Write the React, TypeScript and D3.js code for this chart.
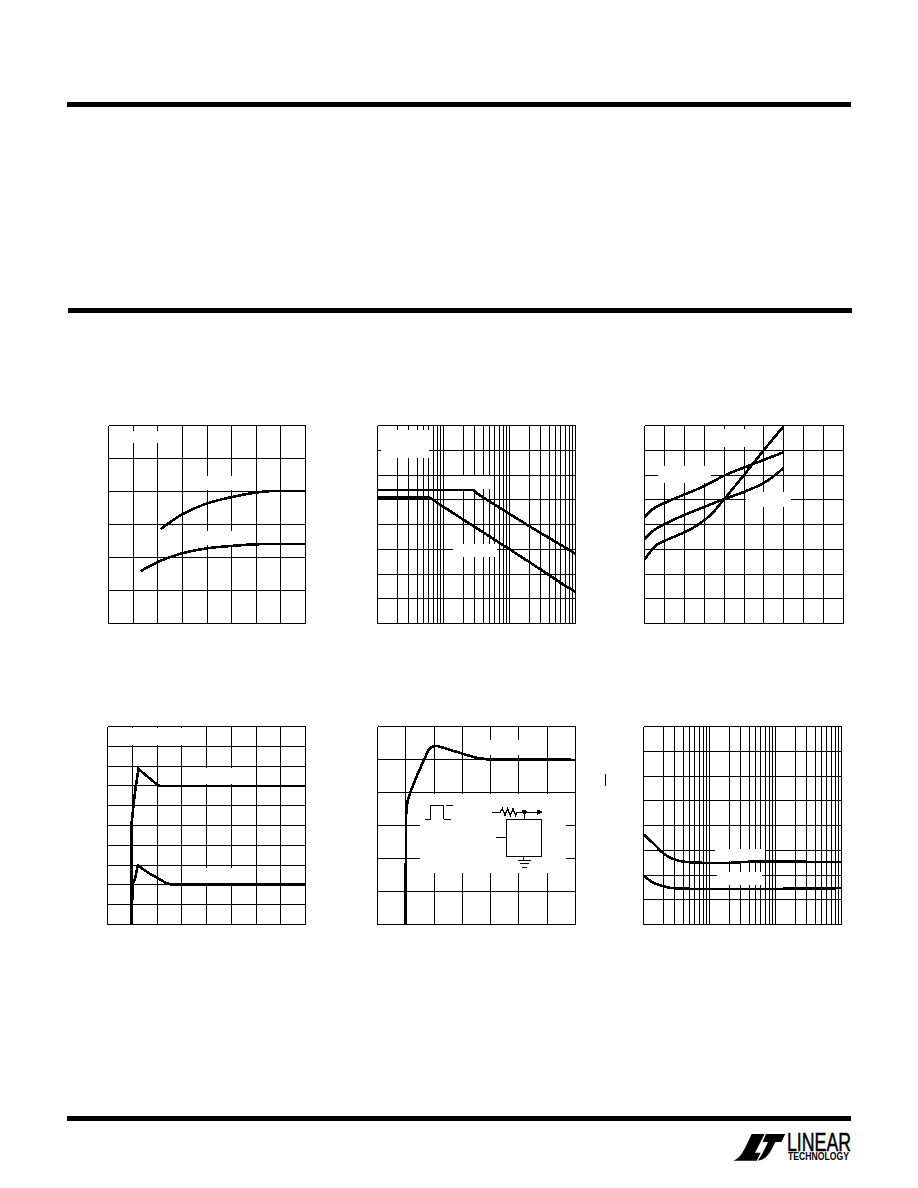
import * as React from "react";
import * as d3 from "d3";

// values, x/y in grid divisions (log panels: x in decades 1..1000)
const p1UpperX = [2.12, 3, 4.01, 4.99, 6, 6.55, 8];
const p1UpperY = [2.86, 3.31, 3.64, 3.83, 3.97, 4.01, 4.02];
const p1LowerX = [1.31, 1.99, 2.5, 3, 4.01, 4.99, 6, 8];
const p1LowerY = [1.59, 1.86, 2.01, 2.13, 2.28, 2.35, 2.4, 2.41];

const p2UpperX = [1, 27.8, 35, 93, 206, 739, 1000];
const p2UpperY = [5.39, 5.39, 5.19, 4.48, 3.91, 3.03, 2.8];
const p2LowerX = [1, 6.06, 11.2, 25.4, 91, 327, 739, 1000];
const p2LowerY = [5.1, 5.1, 4.63, 4.02, 3.07, 2.11, 1.48, 1.28];

const p3AX = [0, 0.586, 1.12, 1.96, 2.63, 3.3, 4.02, 4.98, 5.98, 6.99];
const p3AY = [2.58, 3.16, 3.38, 3.67, 3.96, 4.37, 5.04, 5.98, 6.99, 7.97];
const p3BX = [0, 0.45, 1.04, 1.96, 2.97, 4.02, 4.98, 5.98, 6.65, 6.99];
const p3BY = [3.41, 3.76, 4.03, 4.37, 4.7, 5.03, 5.31, 5.67, 6.05, 6.29];
const p3CX = [0, 0.45, 1.29, 2.97, 4.02, 5.48, 6.99];
const p3CY = [4.3, 4.64, 4.97, 5.54, 5.98, 6.45, 6.92];

const p4UpperX = [0.98, 0.98, 1.08, 1.15, 1.25, 2, 2.12, 8];
const p4UpperY = [0, 5.19, 6.36, 7.04, 7.85, 7.07, 7, 7];
const p4LowerX = [0.98, 1.01, 1.12, 1.22, 1.72, 2.33, 2.53, 8];
const p4LowerY = [0, 2, 2.34, 2.98, 2.56, 2.12, 2.03, 2.03];

const p5X = [0.99, 1.01, 1.06, 1.155, 1.45, 1.8, 1.92, 2.02, 2.1, 2.27, 2.92, 3.45, 3.92, 7];
const p5Y = [0, 3.31, 3.72, 4, 4.62, 5.28, 5.38, 5.41, 5.41, 5.37, 5.2, 5.06, 5, 4.99];

const p6UpperX = [1, 1.42, 2.01, 2.69, 3.6, 4.8, 20.6, 34.7, 1000];
const p6UpperY = [3.64, 3.27, 2.87, 2.67, 2.56, 2.52, 2.49, 2.53, 2.52];
const p6LowerX = [1, 1.42, 2.01, 2.54, 1000];
const p6LowerY = [1.98, 1.68, 1.55, 1.48, 1.47];

type Series = { xs: number[]; ys: number[] };
type Box = [number, number, number, number]; // x0, y0, x1, y1 of a white label patch

interface PanelProps {
  left: number;
  right: number;
  top: number;
  bottom: number;
  xDiv?: number; // linear panels
  log?: boolean;
  yDiv: number;
  series: Series[];
  patches: Box[];
  curve?: d3.CurveFactory;
}

const Panel: React.FC<PanelProps> = ({ left, right, top, bottom, xDiv, log, yDiv, series, patches, curve = d3.curveCatmullRom }) => {
  const x: any = log
    ? d3.scaleLog().domain([1, 1000]).range([left, right])
    : d3.scaleLinear().domain([0, xDiv as number]).range([left, right]);
  const y = d3.scaleLinear().domain([0, yDiv]).range([bottom, top]);
  const xTicks: number[] = log ? x.ticks() : d3.range(0, (xDiv as number) + 1);
  const line = d3
    .line<number>()
    .x((d) => x(d))
    .curve(curve);

  return (
    <g>
      <g stroke="#000" strokeWidth={1} shapeRendering="crispEdges">
        {xTicks.map((t) => (
          <line key={t} x1={x(t)} x2={x(t)} y1={top} y2={bottom} />
        ))}
        {d3.range(0, yDiv + 1).map((t) => (
          <line key={t} x1={left} x2={right} y1={y(t)} y2={y(t)} />
        ))}
      </g>
      {patches.map((b, i) => (
        <rect key={i} x={b[0]} y={b[1]} width={b[2] - b[0]} height={b[3] - b[1]} fill="#fff" />
      ))}
      <g fill="none" stroke="#000" strokeWidth={2.6} shapeRendering="crispEdges">
        {series.map((s, i) => (
          <path key={i} d={line.y((_, j) => y(s.ys[j]))(s.xs) || undefined} />
        ))}
      </g>
    </g>
  );
};

// test circuit sketch sitting in the fifth panel, drawn at 3x then scaled down
const Schematic: React.FC = () => (
  <g transform="translate(360,715) scale(0.3333)" fill="none" stroke="#000" strokeWidth={3} shapeRendering="crispEdges">
    <polyline points="195,313 213,313 213,271 251,271 251,313 273,313" />
    <line x1={258} x2={279} y1={271} y2={271} />
    <polyline points="396,292 420,292 427,281 435,301 443,281 451,301 459,281 467,301 472,292 535,292" strokeWidth={4} />
    <circle cx={493} cy={291} r={6} fill="#000" />
    <polygon points="532,285 545,291 532,298" fill="#000" />
    <line x1={493} x2={493} y1={292} y2={313} />
    <rect x={439} y={313} width={106} height={111} />
    <line x1={408} x2={439} y1={367} y2={367} />
    <line x1={492} x2={492} y1={424} y2={436} />
    <line x1={473} x2={513} y1={436} y2={436} />
    <line x1={480} x2={507} y1={447} y2={447} />
    <line x1={486} x2={500} y1={457} y2={457} />
    <line x1={737} x2={737} y1={177} y2={212} />
  </g>
);

const Logo: React.FC = () => (
  <g>
    <g transform="translate(710,1110) scale(0.3333)" fill="#000">
      <path d="M70,152 C92,146 105,115 125,72 L164,72 L135,128 L152,128 L140,152 Z" />
      <path d="M168,72 L226,72 L214,96 L196,96 C182,126 170,150 143,152 C152,142 164,118 174,96 L158,96 Z" />
    </g>
    <text x={787} y={1151} fontFamily="Liberation Sans" fontSize={25} stroke="#000" strokeWidth={0.5} textLength={64} lengthAdjust="spacingAndGlyphs">
      LINEAR
    </text>
    <text x={788} y={1160} fontFamily="Liberation Sans" fontWeight="bold" fontSize={10.5} textLength={61} lengthAdjust="spacingAndGlyphs">
      TECHNOLOGY
    </text>
  </g>
);

export default function App() {
  return (
    <svg width={918} height={1188} style={{ position: "absolute", left: 0, top: 0, background: "#fff" }}>
      <rect x={67} y={102} width={784} height={5} fill="#000" />
      <rect x={68} y={308} width={784} height={5} fill="#000" />
      <rect x={67} y={1116} width={784} height={5} fill="#000" />

      <Panel
        left={108.5} right={305.5} top={425.5} bottom={623.5} xDiv={8} yDiv={6}
        series={[{ xs: p1UpperX, ys: p1UpperY }, { xs: p1LowerX, ys: p1LowerY }]}
        patches={[[128, 431, 162, 443], [203, 476, 236, 490], [203, 531, 236, 545]]}
      />
      <Panel
        left={377.5} right={575.5} top={425.5} bottom={623.5} log yDiv={8}
        series={[{ xs: p2UpperX, ys: p2UpperY }, { xs: p2LowerX, ys: p2LowerY }]}
        patches={[[381, 430, 429, 458], [444, 476, 492, 489], [453, 544, 497, 557]]}
        curve={d3.curveLinear}
      />
      <Panel
        left={644.5} right={843.5} top={425.5} bottom={623.5} xDiv={10} yDiv={8}
        series={[{ xs: p3AX, ys: p3AY }, { xs: p3BX, ys: p3BY }, { xs: p3CX, ys: p3CY }]}
        patches={[[707, 429, 760, 447], [658, 466, 711, 483], [746, 492, 791, 507]]}
      />
      <Panel
        left={107.5} right={305.5} top={726.5} bottom={924.5} xDiv={8} yDiv={10}
        series={[{ xs: p4UpperX, ys: p4UpperY }, { xs: p4LowerX, ys: p4LowerY }]}
        patches={[[128, 728, 187, 745], [203, 768, 238, 784], [203, 868, 238, 883]]}
        curve={d3.curveLinear}
      />
      <Panel
        left={377.5} right={575.5} top={726.5} bottom={924.5} xDiv={7} yDiv={6}
        series={[{ xs: p5X, ys: p5Y }]}
        patches={[[480, 740, 530, 755], [420, 794, 566, 873]]}
        curve={d3.curveLinear}
      />
      <Schematic />
      <Panel
        left={643.5} right={841.5} top={726.5} bottom={924.5} log yDiv={8}
        series={[{ xs: p6UpperX, ys: p6UpperY }, { xs: p6LowerX, ys: p6LowerY }]}
        patches={[[715, 849, 765, 861], [717, 872, 762, 885]]}
      />
      <Logo />
    </svg>
  );
}
